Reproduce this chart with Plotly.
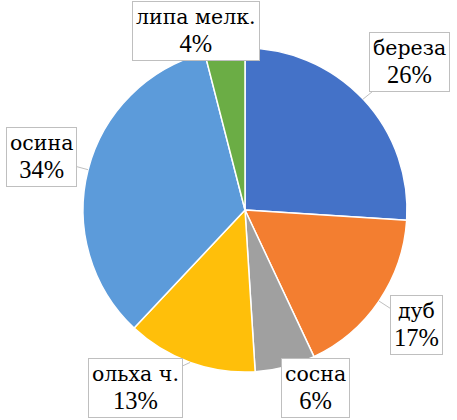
import math
import plotly.graph_objects as go

labels = ["береза", "дуб", "сосна", "ольха ч.", "осина", "липа мелк."]
values = [26, 17, 6, 13, 34, 4]
colors = ["#4472C8", "#F37E30", "#A0A0A0", "#FFBF0A", "#5C9BDA", "#6BAD45"]

W, H = 457, 420
CX, CY, R = 245, 210, 162

# label box centers (pixels)
box_centers = [(409, 62), (416, 325), (315, 388), (135, 388), (41, 157), (196, 31)]
arrows = [True, True, False, True, True, False]

fig = go.Figure(go.Pie(
    labels=labels, values=values, sort=False, direction="clockwise", rotation=0,
    marker=dict(colors=colors, line=dict(color="white", width=1.5)),
    textinfo="none", hoverinfo="label+percent", showlegend=False,
    domain=dict(x=[(CX - R) / W, (CX + R) / W], y=[(H - CY - R) / H, (H - CY + R) / H]),
))

FONT = "Liberation Serif, DejaVu Serif, serif"
total = sum(values)
cum = 0
anns = []
for lab, v, (bx, by), arr in zip(labels, values, box_centers, arrows):
    mid = (cum + v / 2) / total * 2 * math.pi
    cum += v
    pct = round(v / total * 100)
    text = (f"<span style='font-family:DejaVu Serif;font-size:20.5px'>{lab}</span><br>"
            f"<span style='font-size:24.5px'>{pct}%</span>")
    common = dict(text=text, xref="paper", yref="paper",
                  font=dict(family=FONT, size=21.5, color="#000000"),
                  bgcolor="white", bordercolor="#BFBFBF", borderwidth=1, borderpad=3,
                  align="center")
    if arr:
        tx = CX + R * math.sin(mid)
        ty = CY - R * math.cos(mid)
        anns.append(dict(x=tx / W, y=1 - ty / H, ax=bx - tx, ay=by - ty,
                         axref="pixel", ayref="pixel", showarrow=True,
                         arrowhead=0, arrowwidth=1, arrowcolor="#BFBFBF", standoff=0,
                         **common))
    else:
        anns.append(dict(x=bx / W, y=1 - by / H, showarrow=False,
                         xanchor="center", yanchor="middle", **common))

fig.update_layout(width=W, height=H, margin=dict(l=0, r=0, t=0, b=0),
                  paper_bgcolor="white", plot_bgcolor="white", annotations=anns,
                  font=dict(family=FONT))
fig.write_html("out.html", config={"displayModeBar": False},
               post_script="document.body.style.margin='0';document.body.style.overflow='hidden';")
